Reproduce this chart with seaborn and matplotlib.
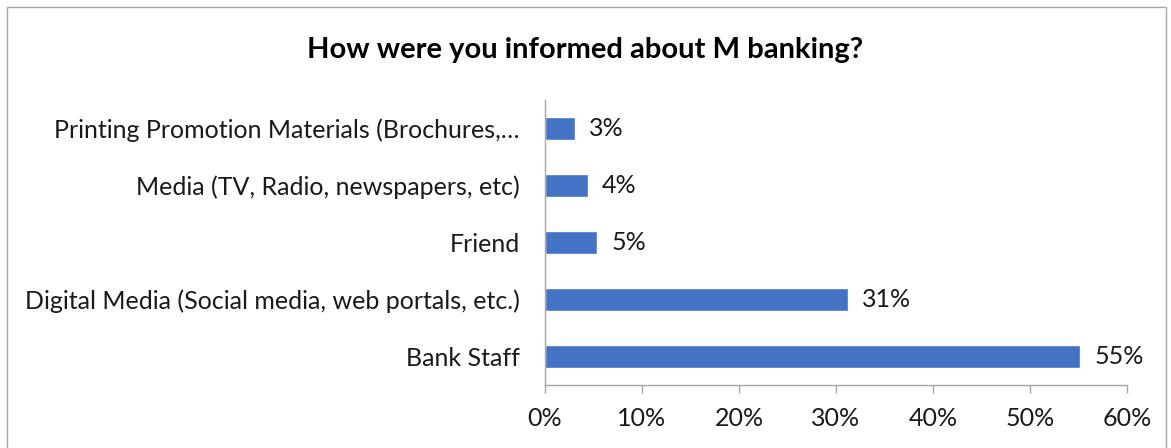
import matplotlib
matplotlib.use("Agg")
import matplotlib.pyplot as plt
from matplotlib.patches import Rectangle
import seaborn as sns
import pandas as pd

categories = [
    "Printing Promotion Materials (Brochures,\u2026",
    "Media (TV, Radio, newspapers, etc)",
    "Friend",
    "Digital Media (Social media, web portals, etc.)",
    "Bank Staff",
]
shares = [3.1, 4.4, 5.4, 31.2, 55.2]
x_ticks = [0, 10, 20, 30, 40, 50, 60]
title = "How were you informed about M banking?"

sns.set_theme(style="white")
plt.rcParams["font.family"] = ["Lato", "DejaVu Sans"]

df = pd.DataFrame({"source": categories, "share": shares})

fig = plt.figure(figsize=(11.71, 4.48), dpi=100)
ax = fig.add_axes([545 / 1171, 1 - 385 / 448, 582 / 1171, 285 / 448])

sns.barplot(data=df, x="share", y="source", order=categories,
            color="#4472C4", saturation=1, width=0.4, orient="h", ax=ax)

ax.set_xlim(0, 60)
ax.set_ylim(4.5, -0.5)
ax.set_xticks(x_ticks)
ax.set_xticklabels([f"{t}%" for t in x_ticks], fontsize=18, color="#1a1a1a")
ax.set_yticks(range(len(categories)))
ax.set_yticklabels(categories, fontsize=18, color="#1a1a1a")
ax.set_yticks([i - 0.5 for i in range(len(categories) + 1)], minor=True)
ax.tick_params(axis="y", which="major", length=0, pad=18)
ax.tick_params(axis="y", which="minor", length=6, color="#a6a6a6", width=1)
ax.tick_params(axis="x", which="major", length=6, color="#a6a6a6", width=1,
               bottom=True, pad=10)
ax.set_xlabel("")
ax.set_ylabel("")

for side in ("top", "right"):
    ax.spines[side].set_visible(False)
for side in ("left", "bottom"):
    ax.spines[side].set_color("#a6a6a6")
    ax.spines[side].set_linewidth(1)

ax.bar_label(ax.containers[0], labels=[f"{v:.0f}%" for v in shares],
             padding=10, fontsize=18, color="#1a1a1a")

fig.text(585 / 1171, 1 - 50 / 448, title, ha="center", va="center",
         fontsize=21, fontweight="bold", color="#000000")

fig.patches.append(Rectangle((7 / 1171, -0.1), 1159 / 1171, 1.1 - 7 / 448,
                             transform=fig.transFigure, fill=False,
                             edgecolor="#a6a6a6", linewidth=1))

fig.savefig("out.png", dpi=100)
